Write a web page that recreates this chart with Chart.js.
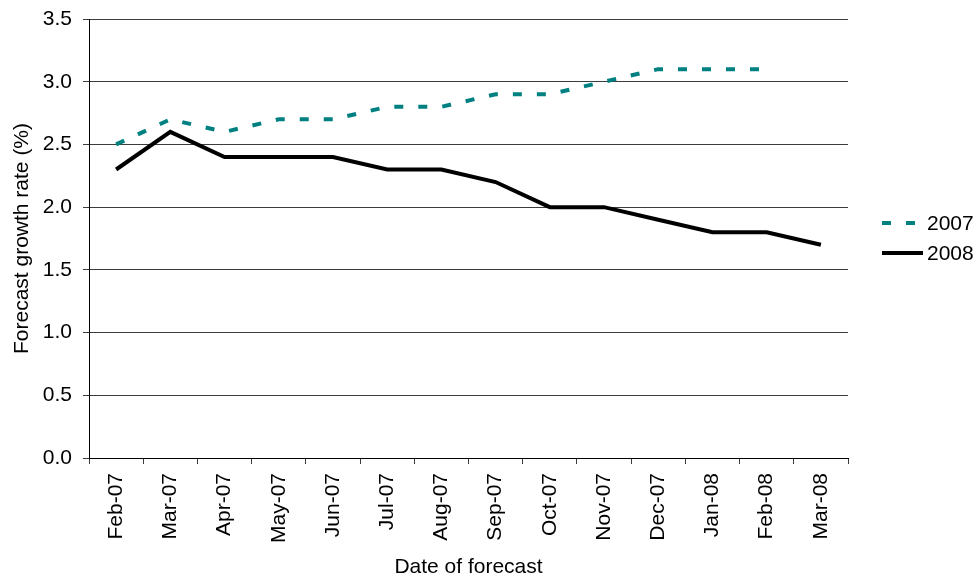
<!DOCTYPE html>
<html>
<head>
<meta charset="utf-8">
<script src="https://cdn.jsdelivr.net/npm/chart.js@4/dist/chart.umd.min.js"></script>
<style>
  html, body { margin: 0; padding: 0; background: #fff; }
  #wrap { width: 977px; height: 578px; position: relative; }
</style>
</head>
<body>
<div id="wrap"><canvas id="growth-chart"></canvas></div>
<script>
const categories = [
  'Feb-07', 'Mar-07', 'Apr-07', 'May-07', 'Jun-07', 'Jul-07', 'Aug-07',
  'Sep-07', 'Oct-07', 'Nov-07', 'Dec-07', 'Jan-08', 'Feb-08', 'Mar-08',
];
const forecast2007 = [2.5, 2.7, 2.6, 2.7, 2.7, 2.8, 2.8, 2.9, 2.9, 3.0, 3.1, 3.1, 3.1, null];
const forecast2008 = [2.3, 2.6, 2.4, 2.4, 2.4, 2.3, 2.3, 2.2, 2.0, 2.0, 1.9, 1.8, 1.8, 1.7];
const yTicks = [0, 0.5, 1.0, 1.5, 2.0, 2.5, 3.0, 3.5];

const font = 'Liberation Sans, Arial, sans-serif';
const gridColor = '#3c3c3c';

// legend drawn by hand so it sits where the original one does
const sideLegend = {
  id: 'sideLegend',
  afterDraw(chart) {
    const { ctx } = chart;
    const rows = [223, 253];
    ctx.save();
    chart.data.datasets.forEach((ds, i) => {
      const y = rows[i];
      ctx.beginPath();
      ctx.lineWidth = ds.borderWidth;
      ctx.strokeStyle = ds.borderColor;
      ctx.setLineDash(ds.borderDash || []);
      ctx.moveTo(882, y);
      ctx.lineTo(923, y);
      ctx.stroke();
      ctx.setLineDash([]);
      ctx.fillStyle = '#000';
      ctx.font = `21px ${font}`;
      ctx.textBaseline = 'middle';
      ctx.textAlign = 'left';
      ctx.fillText(ds.label, 927, y + 1);
    });
    ctx.restore();
  },
};

const buildChart = () => {
  const ctx = document.getElementById('growth-chart');
  return new Chart(ctx, {
    type: 'line',
    data: {
      labels: categories,
      datasets: [
        {
          label: '2007',
          data: forecast2007,
          borderColor: '#008080',
          backgroundColor: '#008080',
          borderWidth: 4,
          borderDash: [9, 15],
          pointRadius: 0,
          tension: 0,
        },
        {
          label: '2008',
          data: forecast2008,
          borderColor: '#000000',
          backgroundColor: '#000000',
          borderWidth: 4,
          pointRadius: 0,
          tension: 0,
        },
      ],
    },
    options: {
      responsive: true,
      maintainAspectRatio: false,
      animation: false,
      layout: { padding: { top: 19, right: 129, bottom: 0, left: 0 } },
      plugins: {
        legend: { display: false },
        tooltip: { enabled: false },
      },
      scales: {
        x: {
          offset: true,
          afterFit: (scale) => { scale.height = 120; },
          grid: {
            offset: true,
            drawOnChartArea: false,
            drawTicks: true,
            tickLength: 6,
            color: gridColor,
          },
          border: { color: '#000', width: 1 },
          ticks: {
            autoSkip: false,
            maxRotation: 90,
            minRotation: 90,
            padding: 9,
            color: '#000',
            font: { family: font, size: 21 },
          },
          title: {
            display: true,
            text: 'Date of forecast',
            color: '#000',
            font: { family: font, size: 21, lineHeight: 1 },
            padding: { top: 0, bottom: 0 },
          },
        },
        y: {
          min: 0,
          max: 3.5,
          afterFit: (scale) => { scale.width = 89; },
          afterBuildTicks: (scale) => { scale.ticks = yTicks.map((v) => ({ value: v })); },
          grid: {
            color: gridColor,
            drawTicks: true,
            tickLength: 6,
          },
          border: { color: '#000', width: 1 },
          ticks: {
            padding: 11,
            color: '#000',
            font: { family: font, size: 21, lineHeight: 0.76 },
            callback: (v) => Number(v).toFixed(1),
          },
          title: {
            display: true,
            text: 'Forecast growth rate (%)',
            color: '#000',
            font: { family: font, size: 21, lineHeight: 1 },
            padding: { top: 12, bottom: 0 },
          },
        },
      },
    },
    plugins: [sideLegend],
  });
};

buildChart();
</script>
</body>
</html>
